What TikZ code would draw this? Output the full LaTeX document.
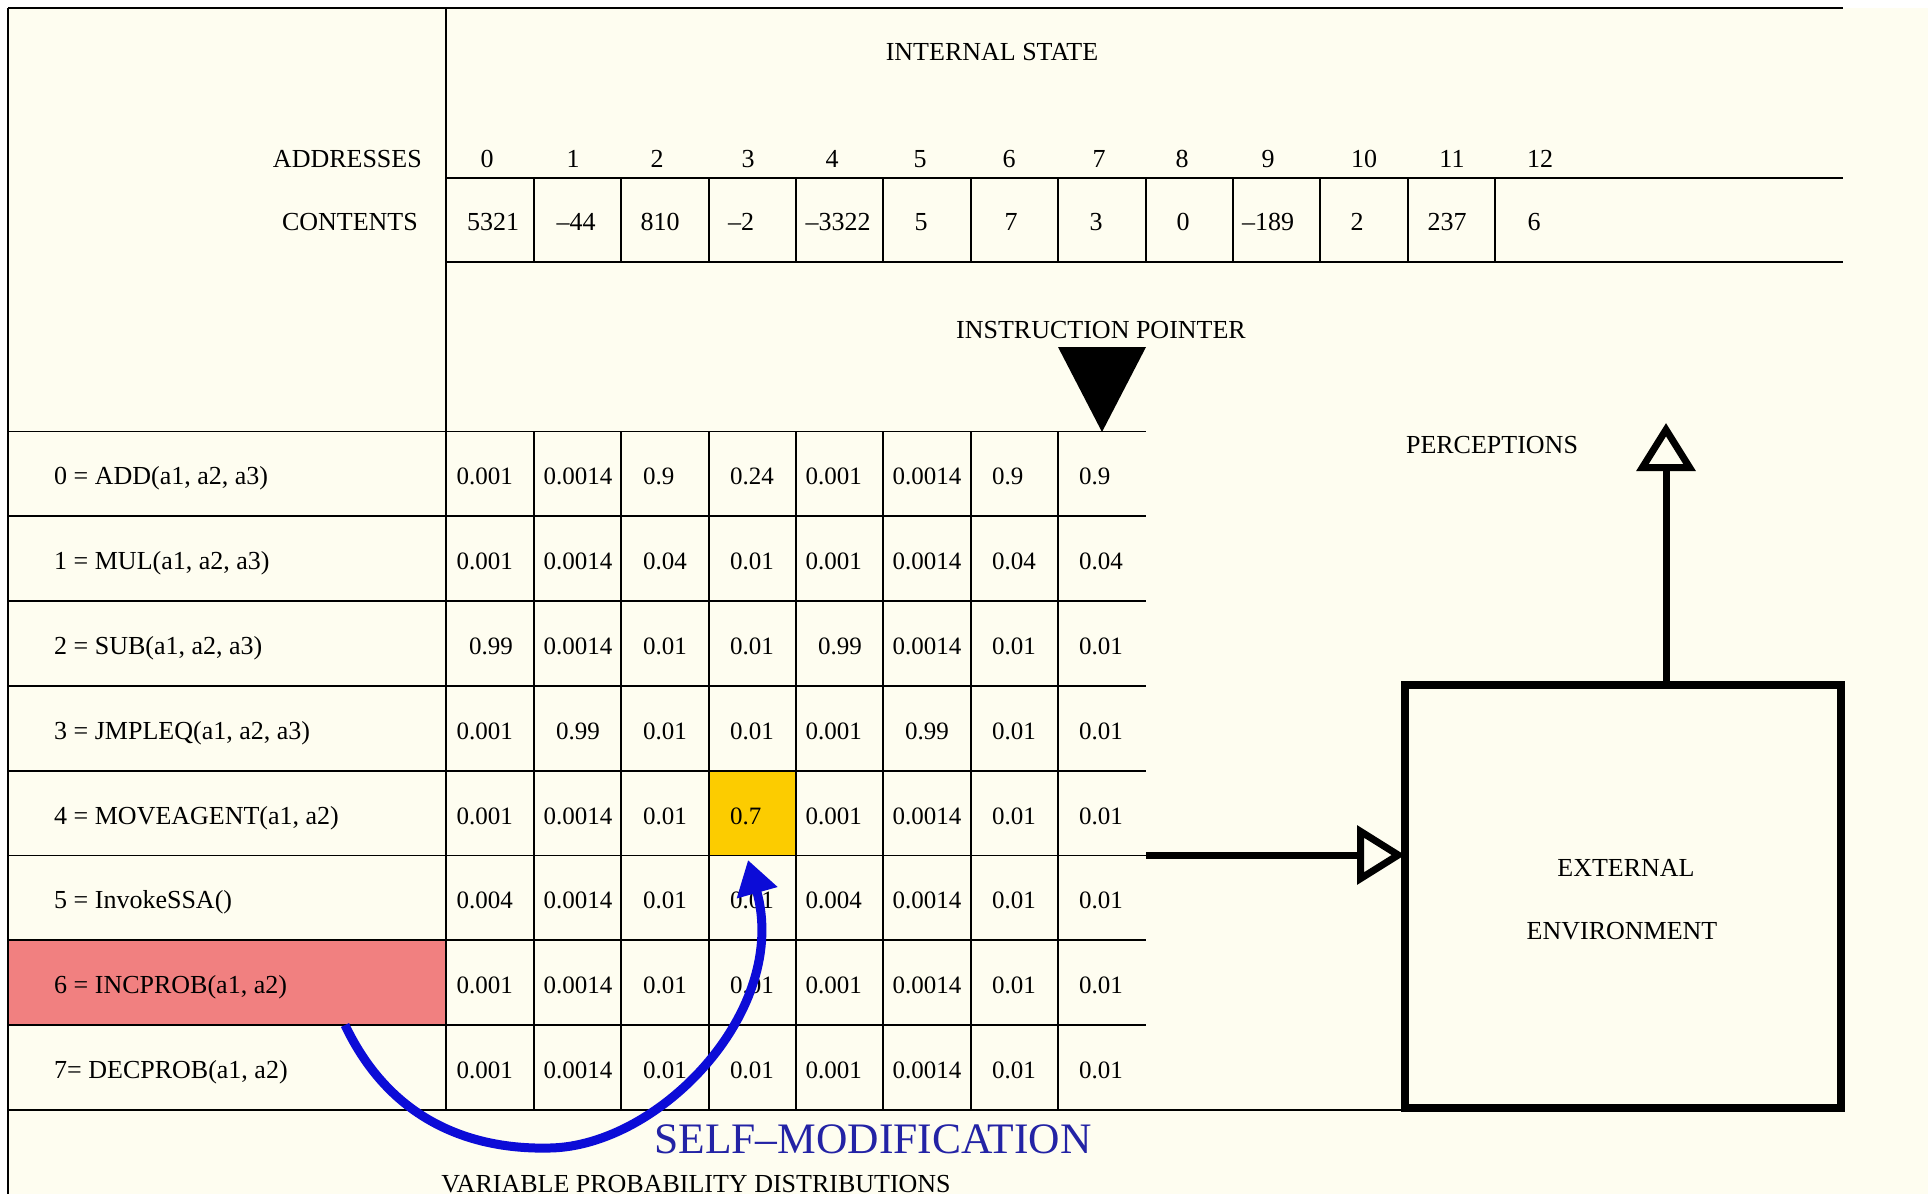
\documentclass[tikz,border=0pt]{standalone}
\usepackage{fontspec}
\setmainfont{Liberation Serif}
\usetikzlibrary{arrows.meta}
\definecolor{cream}{RGB}{254,253,240}
\definecolor{cellred}{RGB}{241,128,128}
\definecolor{cellyellow}{RGB}{252,204,0}
\definecolor{arrowblue}{RGB}{12,12,215}
\definecolor{textblue}{RGB}{35,35,165}
\begin{document}
\begin{tikzpicture}[x=1pt,y=-1pt,
  grid/.style={line width=1.9pt, black},
  lbl/.style={font=\fontsize{26}{30}\selectfont, inner sep=0pt, anchor=base},
  num/.style={font=\fontsize{25}{30}\selectfont, inner sep=0pt},
  cellbox/.style={inner sep=0pt, outer sep=0pt, anchor=north west},
  thickarrow/.style={line width=7pt, -{Triangle[open,length=48pt,width=58pt]}},
]
\useasboundingbox (0,0) rectangle (1928,1194);
\fill[white] (0,0) rectangle (1928,1194);
\fill[cream] (8,8) rectangle (1928,1194);

% highlighted cells
\node[cellbox, fill=cellred, minimum width=438.4pt, minimum height=84.8pt] (inc) at (8,940.3) {};
\node[cellbox, fill=cellyellow, minimum width=87.4pt, minimum height=84.8pt] (hit) at (708.6,770.7) {};

% frame and grid
\draw[grid] (8,8) -- (1843,8);
\draw[grid] (8,8) -- (8,1194);
\draw[grid] (446.4,8) -- (446.4,1110);
\draw[grid] (446.4,178) -- (1843,178);
\draw[grid] (446.4,262) -- (1843,262);
\foreach \k in {1,...,12} \draw[grid] ({446.4+87.4*\k},178) -- ({446.4+87.4*\k},262);
\foreach \r in {0,...,7} \draw[grid] (8,{431.5+84.8*\r}) -- (1146,{431.5+84.8*\r});
\draw[grid] (8,1109.9) -- (1403,1109.9);
\foreach \k in {1,...,7} \draw[grid] ({446.4+87.4*\k},431.5) -- ({446.4+87.4*\k},1110);

% header texts
\node[lbl] (internal) at (992,60) {INTERNAL STATE};
\node[lbl, anchor=base east] (addr) at (422,167) {ADDRESSES};
\node[lbl, anchor=base east] (cont) at (418,230) {CONTENTS};
\foreach \x/\t [count=\i] in {487/0,573/1,657/2,748/3,832/4,920/5,1009/6,1099/7,1182/8,1268/9,1364/10,1452/11,1540/12}
  \node[lbl] (a\i) at (\x,167) {\t};
\foreach \x/\t [count=\i] in {493/5321,576/{\textendash}44,660/810,741/{\textendash}2,838/{\textendash}3322,921/5,1011/7,1096/3,1183/0,1268/{\textendash}189,1357/2,1447/237,1534/6}
  \node[lbl] (c\i) at (\x,230) {\t};

% instruction pointer
\node[lbl] (iptext) at (1101,338) {INSTRUCTION POINTER};
\fill[black] (1058,347) -- (1146,347) -- (1102,432) -- cycle;

% instruction labels
\foreach \r/\t in {0/{0 = ADD(a1, a2, a3)},1/{1 = MUL(a1, a2, a3)},2/{2 = SUB(a1, a2, a3)},3/{3 = JMPLEQ(a1, a2, a3)},4/{4 = MOVEAGENT(a1, a2)},5/{5 = InvokeSSA()},6/{6 = INCPROB(a1, a2)},7/{7= DECPROB(a1, a2)}}
  \node[lbl, anchor=base west] (ins\r) at (54,{484.9+84.8*\r}) {\t};

% probability values
\foreach \r/\a/\b/\c/\d/\e/\f/\g/\h in {
  0/0.001/0.0014/0.9/0.24/0.001/0.0014/0.9/0.9,
  1/0.001/0.0014/0.04/0.01/0.001/0.0014/0.04/0.04,
  2/0.99/0.0014/0.01/0.01/0.99/0.0014/0.01/0.01,
  3/0.001/0.99/0.01/0.01/0.001/0.99/0.01/0.01,
  4/0.001/0.0014/0.01/0.7/0.001/0.0014/0.01/0.01,
  5/0.004/0.0014/0.01/0.01/0.004/0.0014/0.01/0.01,
  6/0.001/0.0014/0.01/0.01/0.001/0.0014/0.01/0.01,
  7/0.001/0.0014/0.01/0.01/0.001/0.0014/0.01/0.01}{
  \pgfmathsetmacro\yy{484.9+84.8*\r}
  \node[num, anchor=base east] (p\r-0) at (513,\yy) {\a};
  \node[num, anchor=base] (p\r-1) at (578,\yy) {\b};
  \node[num, anchor=base west] (p\r-2) at (643,\yy) {\c};
  \node[num, anchor=base west] (p\r-3) at (730,\yy) {\d};
  \node[num, anchor=base east] (p\r-4) at (862,\yy) {\e};
  \node[num, anchor=base] (p\r-5) at (927,\yy) {\f};
  \node[num, anchor=base west] (p\r-6) at (992,\yy) {\g};
  \node[num, anchor=base west] (p\r-7) at (1079,\yy) {\h};
}

% external environment
\node[draw, line width=7.5pt, minimum width=436pt, minimum height=423pt, inner sep=0pt, outer sep=0pt] (env) at (1623,896.5) {};
\node[lbl] (ext1) at (1626,876) {EXTERNAL};
\node[lbl] (ext2) at (1622,939) {ENVIRONMENT};
\node[lbl] (perc) at (1492,453) {PERCEPTIONS};

\coordinate (act) at (1146,855);
\draw[thickarrow] (act) -- (act -| env.west);
\coordinate (perctip) at (1666,423);
\draw[thickarrow] (perctip |- env.north) -- (perctip);

% self modification
\node[font=\fontsize{43.5}{50}\selectfont, text=textblue, anchor=base, inner sep=0pt] (sm) at (873,1153) {SELF\textendash MODIFICATION};
\node[lbl] (vpd) at (696,1192) {VARIABLE PROBABILITY DISTRIBUTIONS};

\coordinate (smstart) at (345,1025);
\coordinate (smtip) at (748,860);
\draw[arrowblue, line width=9pt, -{Triangle[length=34pt,width=40pt]}]
  (smstart) .. controls (390,1120) and (470,1150) .. (550,1148)
  .. controls (660,1146) and (790,1010) .. (smtip);
\end{tikzpicture}
\end{document}
